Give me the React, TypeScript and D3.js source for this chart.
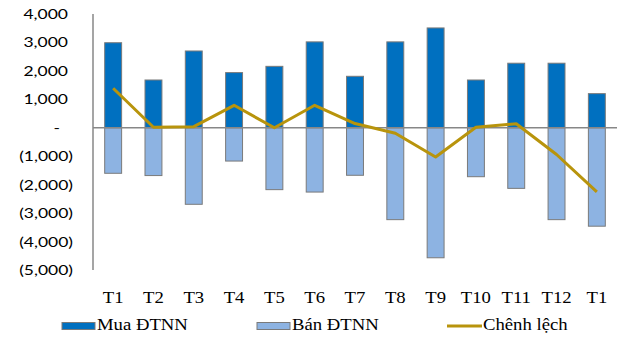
import React from "react";
import * as d3 from "d3";

const months = ["T1", "T2", "T3", "T4", "T5", "T6", "T7", "T8", "T9", "T10", "T11", "T12", "T1 "];
const buyValues = [2990, 1680, 2700, 1940, 2160, 3020, 1810, 3020, 3510, 1680, 2270, 2270, 1200];
const sellValues = [-1600, -1680, -2690, -1170, -2175, -2260, -1670, -3230, -4570, -1720, -2130, -3230, -3460];
const netValues = [1390, 20, 40, 790, 0, 790, 150, -190, -1030, 20, 140, -940, -2250];
const yTicks = [4000, 3000, 2000, 1000, 0, -1000, -2000, -3000, -4000, -5000];
const legendLabels = ["Mua ĐTNN", "Bán ĐTNN", "Chênh lệch"];

const W = 618;
const H = 339;
const plotLeft = 93;
const plotRight = 617;
const plotTop = 14;
const plotBottom = 270;

const BUY = "#0070C0";
const SELL = "#8DB3E2";
const NET = "#B8940C";
const EDGE = "#7a7a7a";
const AXIS = "#878787";

const fmt = d3.format(",");

export default function App() {
  const x = d3.scaleBand<string>().domain(months).range([plotLeft, plotRight]).paddingInner(0.58).paddingOuter(0.29);
  const y = d3.scaleLinear().domain([-5000, 4000]).range([plotBottom, plotTop]);
  const cx = (m: string) => (x(m) as number) + x.bandwidth() / 2;

  const line = d3
    .line<number>()
    .x((_, i) => cx(months[i]))
    .y((d) => y(d));

  const tickText = (v: number) => (v === 0 ? "-" : v < 0 ? `(${fmt(-v)})` : fmt(v));
  const tickRight = (v: number) => (v === 0 ? 60 : v < 0 ? 73 : 68);

  return (
    <svg width={W} height={H} style={{ position: "absolute", left: 0, top: 0, background: "#fff" }}>
      {/* buy bars */}
      {buyValues.map((v, i) => (
        <rect
          key={`b${i}`}
          x={x(months[i])}
          y={y(v)}
          width={x.bandwidth()}
          height={y(0) - y(v)}
          fill={BUY}
          stroke={EDGE}
          strokeWidth={1}
        />
      ))}
      {/* sell bars */}
      {sellValues.map((v, i) => (
        <rect
          key={`s${i}`}
          x={x(months[i])}
          y={y(0)}
          width={x.bandwidth()}
          height={y(v) - y(0)}
          fill={SELL}
          stroke={EDGE}
          strokeWidth={1}
        />
      ))}
      {/* axes */}
      <line x1={plotLeft} x2={plotLeft} y1={plotTop} y2={plotBottom} stroke={AXIS} strokeWidth={1.5} />
      <line x1={plotLeft} x2={plotRight} y1={y(0)} y2={y(0)} stroke={AXIS} strokeWidth={1.5} />
      {/* net line */}
      <path d={line(netValues) || ""} fill="none" stroke={NET} strokeWidth={3} strokeLinejoin="round" />
      {/* y tick labels */}
      {yTicks.map((v) => (
        <text
          key={`y${v}`}
          transform={`translate(${tickRight(v)},${y(v) + 5}) scale(1.25,1)`}
          textAnchor="end"
          fontFamily="Lato, 'Open Sans', sans-serif"
          fontSize={14}
          fill="#000"
        >
          {tickText(v)}
        </text>
      ))}
      {/* x labels */}
      {months.map((m) => (
        <text
          key={`x${m}`}
          transform={`translate(${cx(m)},303) scale(1.1,1)`}
          textAnchor="middle"
          fontFamily="'Liberation Serif', 'Times New Roman', serif"
          fontSize={17}
          fill="#000"
        >
          {m.trim()}
        </text>
      ))}
      {/* legend */}
      <rect x={62} y={322.5} width={33} height={7} fill={BUY} stroke={EDGE} strokeWidth={1} />
      <text transform="translate(97,330) scale(1.1,1)" fontFamily="'Liberation Serif', serif" fontSize={17}>
        {legendLabels[0]}
      </text>
      <rect x={257} y={322.5} width={33} height={7} fill={SELL} stroke={EDGE} strokeWidth={1} />
      <text transform="translate(292,330) scale(1.1,1)" fontFamily="'Liberation Serif', serif" fontSize={17}>
        {legendLabels[1]}
      </text>
      <line x1={447} x2={482} y1={326} y2={326} stroke={NET} strokeWidth={3} />
      <text transform="translate(483,330) scale(1.1,1)" fontFamily="'Liberation Serif', serif" fontSize={17}>
        {legendLabels[2]}
      </text>
    </svg>
  );
}
